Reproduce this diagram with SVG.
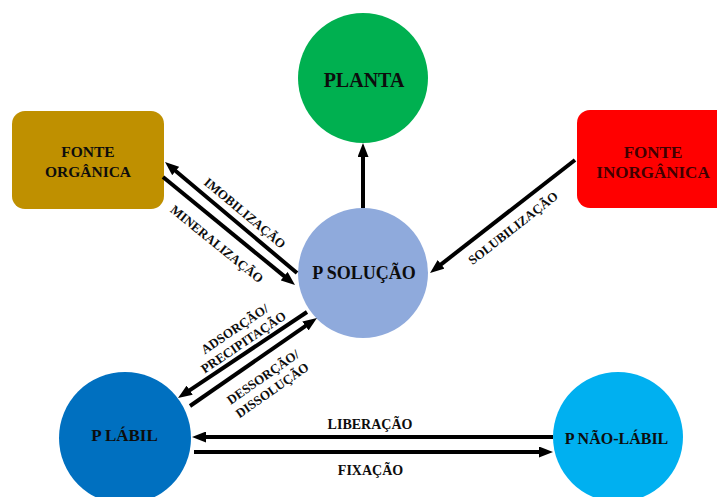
<svg xmlns="http://www.w3.org/2000/svg" width="717" height="497" viewBox="0 0 717 497">
<style>
.t{font-family:"Liberation Serif","Times New Roman",serif;font-weight:bold;text-anchor:middle;fill:#0d0d0d}
.c{stroke:#000;stroke-width:4;fill:none;marker-end:url(#ah)}
.lbl{font-size:13px}
</style>
<defs>
<marker id="ah" viewBox="0 0 14 11" markerWidth="14" markerHeight="11" markerUnits="userSpaceOnUse" refX="2" refY="5.5" orient="auto">
<path d="M0,0 L14,5.5 L0,11 z" fill="#000"/>
</marker>
</defs>
<rect width="717" height="497" fill="#fff"/>
<g id="planta">
<circle cx="363" cy="78" r="65" fill="#00B050"/>
<text class="t" x="364" y="87" font-size="20">PLANTA</text>
</g>
<g id="fonte-organica">
<rect x="12" y="111" width="152" height="98" rx="13" fill="#BF9000"/>
<text class="t" x="88" y="156.5" font-size="15.5">FONTE</text>
<text class="t" x="88" y="176.5" font-size="15.5">ORGÂNICA</text>
</g>
<g id="fonte-inorganica">
<rect x="577" y="110" width="160" height="98" rx="13" fill="#FF0000"/>
<text class="t" x="653" y="157.5" font-size="17" style="fill:#400000">FONTE</text>
<text class="t" x="653" y="178" font-size="17" style="fill:#400000">INORGÂNICA</text>
</g>
<g id="p-solucao">
<circle cx="363" cy="273" r="65" fill="#8FAADC"/>
<text class="t" x="364" y="279" font-size="18">P SOLUÇÃO</text>
</g>
<g id="p-labil">
<circle cx="125" cy="438" r="66" fill="#0070C0"/>
<text class="t" x="124.5" y="441" font-size="17">P LÁBIL</text>
</g>
<g id="p-nao-labil">
<circle cx="618" cy="437" r="65" fill="#00B0F0"/>
<text class="t" x="616.5" y="443.5" font-size="16">P NÃO-LÁBIL</text>
</g>
<g id="connectors">
<path class="c" d="M363,208 L363,155"/>
<path class="c" d="M297,273 L174.2,169.7"/>
<path class="c" d="M163,177 L285.7,277.4"/>
<path class="c" d="M575,160 L439.5,265.6"/>
<path class="c" d="M307,312 L188,391.3"/>
<path class="c" d="M190,406 L307.1,324.8"/>
<path class="c" d="M553,437 L204,437"/>
<path class="c" d="M194,452 L541,452"/>
<text class="t lbl" transform="translate(245,213) rotate(40)" y="4.5">IMOBILIZAÇÃO</text>
<text class="t lbl" transform="translate(217,244) rotate(39)" y="4.5">MINERALIZAÇÃO</text>
<text class="t lbl" transform="translate(513,228) rotate(-38)" y="4.5">SOLUBILIZAÇÃO</text>
<g transform="translate(239,335.5) rotate(-34)">
<text class="t lbl" y="-3.5">ADSORÇÃO/</text>
<text class="t lbl" y="12.5">PRECIPITAÇÃO</text>
</g>
<g transform="translate(267.5,383.5) rotate(-35)">
<text class="t lbl" y="-3.5">DESSORÇÃO/</text>
<text class="t lbl" y="12.5">DISSOLUÇÃO</text>
</g>
<text class="t" x="370" y="429" font-size="14">LIBERAÇÃO</text>
<text class="t" x="370.5" y="475" font-size="14">FIXAÇÃO</text>
</g>
</svg>
